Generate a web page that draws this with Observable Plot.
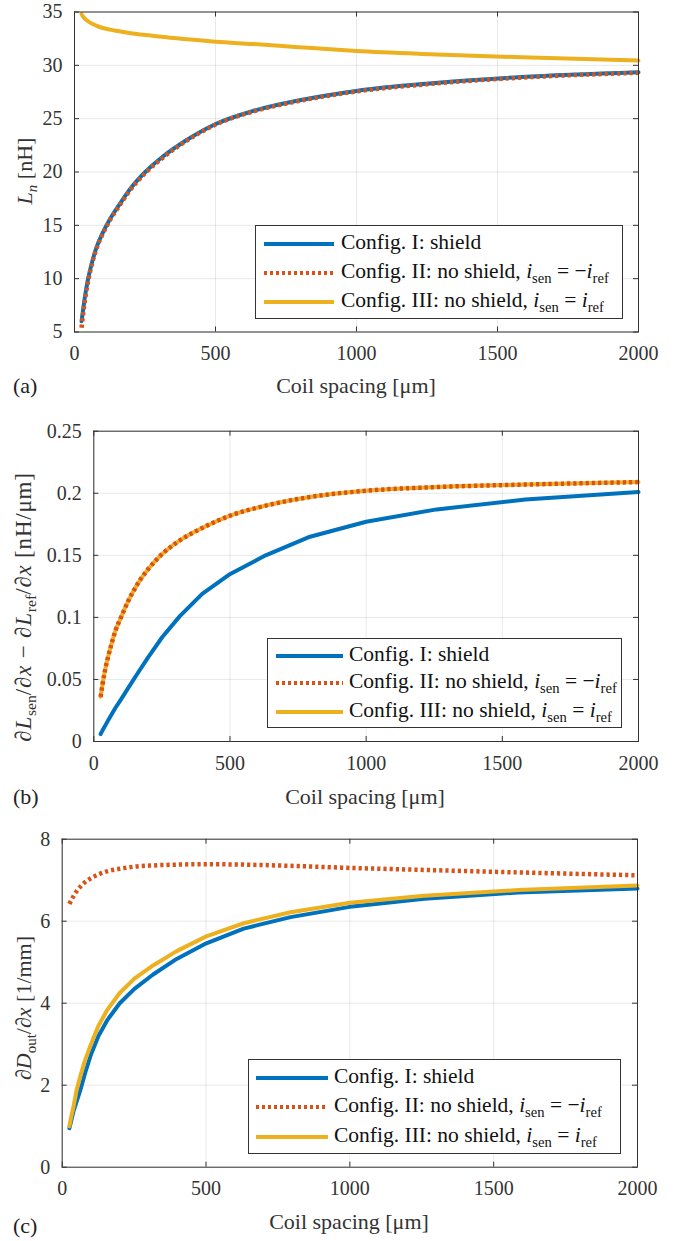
<!DOCTYPE html>
<html>
<head>
<meta charset="utf-8">
<script src="https://cdn.jsdelivr.net/npm/d3@7"></script>
<script src="https://cdn.jsdelivr.net/npm/@observablehq/plot@0.6"></script>
<style>
  html, body { margin: 0; padding: 0; background: #fff; }
  #wrap { position: relative; width: 676px; height: 1241px; font-family: "Liberation Serif", serif; color: #222; overflow: hidden; }
  .panel { position: absolute; left: 0; }
  .lbl { position: absolute; white-space: nowrap; font-size: 22px; color: #333; transform: translate(-50%, -50%); line-height: 1; }
  .ylbl { transform: translate(-50%, -50%) rotate(-90deg); }
  .wide { font-size: 23px; letter-spacing: 0.8px; }
  .tag { position: absolute; font-size: 22px; color: #222; transform: translateY(-50%); line-height: 1; }
  sub { font-size: 0.68em; vertical-align: -0.32em; line-height: 0; letter-spacing: 0; }
  .legend { position: absolute; background: #fff; border: 1px solid #333; box-sizing: border-box; }
  .row { position: absolute; left: 0; white-space: nowrap; font-size: 21.5px; color: #111; line-height: 1; }
  .row svg { position: absolute; top: -3px; }
  .row span { position: absolute; transform: translateY(-55%); }
</style>
</head>
<body>
<div id="wrap"></div>
<script>
// ---------------- data ----------------
const spacing = [25, 32, 40, 50, 63, 79, 100, 126, 158, 200, 251, 316, 398, 501, 631, 794, 1000, 1259, 1585, 2000];

// (a) L_n [nH]
const aShield    = [6.0, 7.4, 8.8, 10.2, 11.6, 13.0, 14.3, 15.6, 16.9, 18.5, 20.0, 21.5, 23.0, 24.5, 25.7, 26.7, 27.6, 28.3, 28.9, 29.35];
const aNegRef    = [5.4, 7.0, 8.5, 10.0, 11.5, 12.9, 14.2, 15.5, 16.8, 18.4, 19.9, 21.4, 22.95, 24.45, 25.65, 26.65, 27.55, 28.25, 28.85, 29.3];
const aPosRef    = [34.8, 34.5, 34.3, 34.1, 33.9, 33.7, 33.5, 33.35, 33.2, 33.0, 32.85, 32.65, 32.45, 32.2, 32.0, 31.7, 31.35, 31.05, 30.75, 30.45];

// (b) dLsen/dx - dLref/dx [nH/um]
const bShield    = [0.006, 0.009, 0.012, 0.016, 0.021, 0.027, 0.034, 0.043, 0.054, 0.068, 0.084, 0.101, 0.119, 0.135, 0.150, 0.165, 0.177, 0.187, 0.195, 0.201];
const bNegRef    = [0.036, 0.046, 0.056, 0.066, 0.077, 0.089, 0.100, 0.113, 0.126, 0.139, 0.151, 0.162, 0.172, 0.182, 0.190, 0.197, 0.202, 0.205, 0.207, 0.209];
const bPosRef    = [0.036, 0.046, 0.056, 0.066, 0.077, 0.089, 0.100, 0.113, 0.126, 0.139, 0.151, 0.162, 0.172, 0.182, 0.190, 0.197, 0.202, 0.205, 0.207, 0.209];

// (c) dDout/dx [1/mm]
const cShield    = [0.95, 1.15, 1.38, 1.6, 1.88, 2.28, 2.75, 3.2, 3.6, 4.0, 4.35, 4.7, 5.08, 5.46, 5.82, 6.1, 6.35, 6.55, 6.7, 6.8];
const cNegRef    = [6.42, 6.52, 6.62, 6.73, 6.84, 6.95, 7.05, 7.14, 7.22, 7.28, 7.33, 7.36, 7.38, 7.39, 7.38, 7.35, 7.30, 7.25, 7.19, 7.12];
const cPosRef    = [1.0, 1.25, 1.5, 1.88, 2.22, 2.6, 3.0, 3.45, 3.85, 4.25, 4.6, 4.92, 5.27, 5.63, 5.95, 6.22, 6.45, 6.62, 6.76, 6.87];

const xTicks = [0, 500, 1000, 1500, 2000];
const aYTicks = [5, 10, 15, 20, 25, 30, 35];
const bYTicks = [0, 0.05, 0.1, 0.15, 0.2, 0.25];
const bYTickLabels = ["0", "0.05", "0.1", "0.15", "0.2", "0.25"];
const cYTicks = [0, 2, 4, 6, 8];

const colors = {shield: "#0072BD", neg: "#D95319", pos: "#EDB120"};
const seriesNames = ["Config. I: shield", "Config. II: no shield", "Config. III: no shield"];

// ---------------- helpers ----------------
function rows(ys) { return spacing.map((x, i) => ({x, y: ys[i]})); }

function innerTicks(xd, yd, yt, plotW, plotH) {
  const len = 5;
  const dy = (yd[1] - yd[0]) * len / plotH;
  const dx = (xd[1] - xd[0]) * len / plotW;
  const o = {stroke: "#333", strokeWidth: 1};
  return [
    Plot.ruleX(xTicks, {x: d => d, y1: yd[0], y2: yd[0] + dy, ...o}),
    Plot.ruleX(xTicks, {x: d => d, y1: yd[1], y2: yd[1] - dy, ...o}),
    Plot.ruleY(yt, {y: d => d, x1: xd[0], x2: xd[0] + dx, ...o}),
    Plot.ruleY(yt, {y: d => d, x1: xd[1], x2: xd[1] - dx, ...o})
  ];
}

function panel(cfg) {
  const W = 676;
  const plotW = W - cfg.ml - cfg.mr;
  const plotH = cfg.h - cfg.mt - cfg.mb;
  const xd = [0, 2000];
  const c1 = cfg.c1 || "linear", c2 = cfg.c2 || "linear", c3 = cfg.c3 || "linear";
  const svg = Plot.plot({
    width: W, height: cfg.h,
    marginTop: cfg.mt, marginBottom: cfg.mb, marginLeft: cfg.ml, marginRight: cfg.mr,
    style: {fontFamily: "Liberation Serif, serif", fontSize: "20px", color: "#333", background: "white", overflow: "visible"},
    x: {domain: xd, ticks: xTicks, tickSize: 0, tickPadding: 14, tickFormat: d => String(d), label: null},
    y: {domain: cfg.yd, ticks: cfg.yt, tickSize: 0, tickPadding: 12, tickFormat: cfg.yfmt || (d => String(d)), label: null},
    marks: [
      Plot.gridX(xTicks, {stroke: "#000", strokeOpacity: 0.09, strokeWidth: 1}),
      Plot.gridY(cfg.yt, {stroke: "#000", strokeOpacity: 0.09, strokeWidth: 1}),
      ...innerTicks(xd, cfg.yd, cfg.yt, plotW, plotH),
      Plot.line(rows(cfg.s1), {x: "x", y: "y", stroke: colors.shield, strokeWidth: 4, curve: c1}),
      Plot.line(rows(cfg.s3), {x: "x", y: "y", stroke: colors.pos, strokeWidth: 4, curve: c3}),
      Plot.line(rows(cfg.s2), {x: "x", y: "y", stroke: colors.neg, strokeWidth: 4.5, strokeDasharray: "3.2,3", strokeLinecap: "butt", curve: c2}),
      Plot.frame({stroke: "#333", strokeWidth: 1})
    ]
  });
  const div = document.createElement("div");
  div.className = "panel";
  div.style.top = cfg.top + "px";
  div.appendChild(svg);
  return div;
}

const wrap = document.getElementById("wrap");
const M = "monotone-x";
wrap.appendChild(panel({top: 0, h: 400, mt: 11.5, mb: 68.5, ml: 74, mr: 38, yd: [5, 35], yt: aYTicks, s1: aShield, s2: aNegRef, s3: aPosRef, c1: M, c2: M, c3: M}));
wrap.appendChild(panel({top: 400, h: 410, mt: 30.7, mb: 69, ml: 93.3, mr: 38, yd: [0, 0.25], yt: bYTicks, yfmt: (d, i) => bYTickLabels[i], s1: bShield, s2: bNegRef, s3: bPosRef, c2: M, c3: M}));
wrap.appendChild(panel({top: 810, h: 431, mt: 28.7, mb: 74.3, ml: 61.7, mr: 39, yd: [0, 8], yt: cYTicks, s1: cShield, s2: cNegRef, s3: cPosRef, c2: M}));

// ---------------- labels ----------------
function addLabel(html, x, y, cls) {
  const d = document.createElement("div");
  d.className = cls;
  d.innerHTML = html;
  d.style.left = x + "px";
  d.style.top = y + "px";
  wrap.appendChild(d);
}
const xLabel = "Coil spacing [μm]";
addLabel("<i>L</i><sub><i>n</i></sub> [nH]", 25, 171, "lbl ylbl");
addLabel(xLabel, 356, 386, "lbl");
addLabel("(a)", 13, 386, "tag");

addLabel("∂<i>L</i><sub>sen</sub>/∂<i>x</i> − ∂<i>L</i><sub>ref</sub>/∂<i>x</i> [nH/μm]", 23, 607, "lbl ylbl wide");
addLabel(xLabel, 365, 797, "lbl");
addLabel("(b)", 13, 797, "tag");

addLabel("∂<i>D</i><sub>out</sub>/∂<i>x</i> [1/mm]", 24, 1008, "lbl ylbl");
addLabel(xLabel, 349, 1222, "lbl");
addLabel("(c)", 13, 1226, "tag");

// ---------------- legends ----------------
const legendTexts = [
  seriesNames[0],
  seriesNames[1] + ", <i>i</i><sub>sen</sub> = −<i>i</i><sub>ref</sub>",
  seriesNames[2] + ", <i>i</i><sub>sen</sub> = <i>i</i><sub>ref</sub>"
];
function addLegend(L) {
  const box = document.createElement("div");
  box.className = "legend";
  Object.assign(box.style, {left: L.x + "px", top: L.y + "px", width: L.w + "px", height: L.h + "px"});
  const styles = [
    {stroke: colors.shield, dash: null},
    {stroke: colors.neg, dash: "3,3"},
    {stroke: colors.pos, dash: null}
  ];
  L.rows.forEach((ry, i) => {
    const r = document.createElement("div");
    r.className = "row";
    r.style.top = ry + "px";
    const s = styles[i];
    r.innerHTML = `<svg width="${L.sw + 2}" height="6" style="left:${L.sx}px"><line x1="0" x2="${L.sw}" y1="3" y2="3" stroke="${s.stroke}" stroke-width="4" ${s.dash ? `stroke-dasharray="${s.dash}"` : ""}/></svg><span style="left:${L.tx}px">${legendTexts[i]}</span>`;
    box.appendChild(r);
  });
  wrap.appendChild(box);
}
addLegend({x: 255, y: 225, w: 368, h: 94, rows: [18, 47, 76], sx: 8, sw: 70, tx: 85});
addLegend({x: 267, y: 638, w: 355, h: 90, rows: [17, 44, 73], sx: 8, sw: 67, tx: 81});
addLegend({x: 248, y: 1059, w: 373, h: 95, rows: [18, 47, 77], sx: 7, sw: 72, tx: 85});
</script>
</body>
</html>
